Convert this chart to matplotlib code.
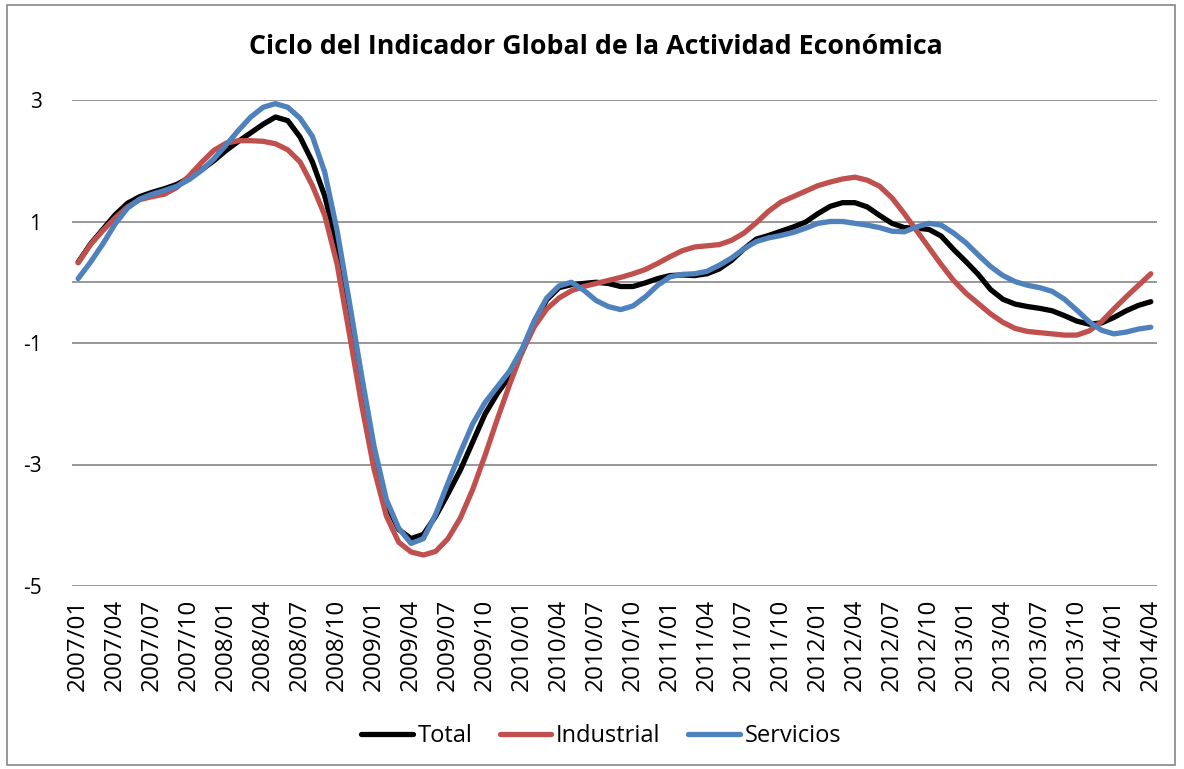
import matplotlib
matplotlib.use("Agg")
import matplotlib.pyplot as plt
from matplotlib.patches import Rectangle

plt.rcParams['font.family'] = ['Open Sans', 'DejaVu Sans']

# datos mensuales 2007/01 - 2014/04
meses = [f"{a}/{m:02d}" for a in range(2007, 2015) for m in range(1, 13)][:88]

total = [0.33, 0.63, 0.87, 1.11, 1.30, 1.41, 1.48, 1.54, 1.61, 1.72,
         1.85, 2.00, 2.17, 2.32, 2.46, 2.60, 2.72, 2.66, 2.39, 1.98,
         1.42, 0.60, -0.50, -1.70, -2.83, -3.65, -4.07, -4.22, -4.15, -3.85,
         -3.48, -3.09, -2.63, -2.17, -1.83, -1.55, -1.15, -0.67, -0.29, -0.09,
         -0.04, -0.02, 0.00, -0.02, -0.07, -0.07, -0.01, 0.06, 0.11, 0.12,
         0.11, 0.14, 0.22, 0.36, 0.55, 0.71, 0.77, 0.84, 0.91, 0.99,
         1.13, 1.25, 1.31, 1.31, 1.24, 1.10, 0.97, 0.90, 0.89, 0.87,
         0.76, 0.54, 0.34, 0.13, -0.12, -0.28, -0.36, -0.40, -0.43, -0.47,
         -0.55, -0.64, -0.69, -0.67, -0.58, -0.47, -0.38, -0.32]

industrial = [0.32, 0.62, 0.85, 1.06, 1.24, 1.36, 1.41, 1.45, 1.56, 1.75,
              1.97, 2.17, 2.29, 2.33, 2.33, 2.32, 2.28, 2.18, 1.98, 1.59,
              1.10, 0.30, -0.85, -2.03, -3.08, -3.85, -4.28, -4.44, -4.49, -4.43,
              -4.22, -3.88, -3.41, -2.85, -2.25, -1.68, -1.15, -0.73, -0.44, -0.26,
              -0.14, -0.07, -0.02, 0.03, 0.08, 0.14, 0.21, 0.31, 0.42, 0.52,
              0.58, 0.60, 0.62, 0.69, 0.81, 0.98, 1.17, 1.32, 1.41, 1.50,
              1.59, 1.65, 1.70, 1.73, 1.68, 1.58, 1.39, 1.13, 0.85, 0.57,
              0.29, 0.03, -0.18, -0.35, -0.52, -0.66, -0.76, -0.81, -0.83, -0.85,
              -0.87, -0.87, -0.80, -0.65, -0.44, -0.24, -0.05, 0.14]

servicios = [0.06, 0.33, 0.63, 0.96, 1.22, 1.37, 1.45, 1.51, 1.58, 1.69,
             1.84, 2.03, 2.26, 2.50, 2.72, 2.88, 2.94, 2.88, 2.70, 2.40,
             1.81, 0.85, -0.33, -1.55, -2.70, -3.58, -4.05, -4.30, -4.22, -3.82,
             -3.30, -2.80, -2.33, -1.98, -1.72, -1.46, -1.10, -0.63, -0.26, -0.06,
             0.00, -0.13, -0.30, -0.40, -0.45, -0.39, -0.24, -0.05, 0.09, 0.13,
             0.14, 0.18, 0.28, 0.40, 0.55, 0.67, 0.73, 0.77, 0.82, 0.89,
             0.97, 1.00, 1.00, 0.97, 0.94, 0.90, 0.84, 0.83, 0.91, 0.97,
             0.94, 0.81, 0.65, 0.45, 0.26, 0.11, 0.01, -0.05, -0.09, -0.15,
             -0.28, -0.46, -0.65, -0.79, -0.85, -0.82, -0.77, -0.74]

x = list(range(len(meses)))

fig = plt.figure(figsize=(11.84, 7.69), dpi=100)
ax = fig.add_axes([72/1184, 1 - 586/769, (1157-72)/1184, (586-100)/769])

gris = '#868686'
ax.plot(x, total, color='black', lw=3.8, label='Total', solid_capstyle='round')
ax.plot(x, industrial, color='#C0504D', lw=3.8, label='Industrial', solid_capstyle='round')
ax.plot(x, servicios, color='#4F81BD', lw=3.8, label='Servicios', solid_capstyle='round')

ax.set_xlim(-0.5, len(meses) - 0.5)
ax.set_ylim(-5, 3)
ax.set_yticks([-5, -3, -1, 1, 3])
ax.set_yticklabels(['-5', '-3', '-1', '1', '3'])
ax.yaxis.grid(True, color=gris, lw=1.2)
ax.set_axisbelow(True)
ax.axhline(0, color=gris, lw=1.2, zorder=0)
ax.set_xticks(x[::3])
ax.set_xticklabels(meses[::3], rotation=90, fontsize=17.5)
ax.tick_params(axis='y', length=0, pad=22, labelsize=15)
ax.tick_params(axis='x', length=0, pad=9)
for s in ax.spines.values():
    s.set_visible(False)

fig.suptitle('Ciclo del Indicador Global de la Actividad Económica',
             x=596/1184, y=1 - 47/769, va='center', fontsize=19.3, fontweight='bold')

fig.legend(loc='center', bbox_to_anchor=(601/1184, 1 - 736/769), ncol=3, frameon=False,
           fontsize=17, handlelength=2.2, handletextpad=0.2, columnspacing=1.15)

fig.patches.append(Rectangle((7/1184, 4/769), 1168/1184, 760/769, transform=fig.transFigure,
                             fill=False, edgecolor=gris, lw=1.2))

fig.savefig('out.png', dpi=100)
